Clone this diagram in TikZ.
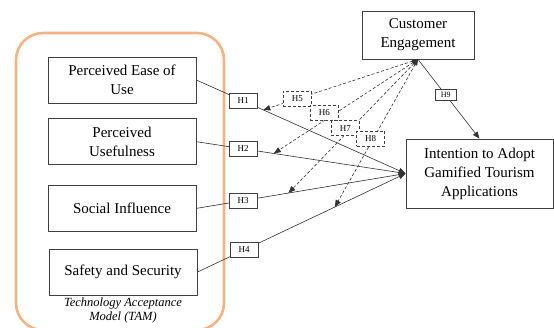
\documentclass[tikz,border=0pt]{standalone}
\usepackage{fontspec}
\setmainfont{Liberation Serif}
\usetikzlibrary{arrows.meta, positioning}

\definecolor{tamorange}{RGB}{245,178,130}

\tikzset{
  construct/.style={draw=black!75, line width=0.7pt, align=center, inner sep=2pt,
    minimum width=148pt, minimum height=46pt, font=\fontsize{15}{19}\selectfont},
  hypbox/.style={draw=black!75, line width=0.6pt, fill=white, inner sep=1pt,
    minimum width=28pt, minimum height=15pt, font=\fontsize{9}{10}\selectfont},
  hypdash/.style={hypbox, dash pattern=on 3pt off 2pt},
  link/.style={draw=black!80, line width=0.6pt, -{Triangle[length=7pt,width=5.5pt]}},
  moderate/.style={link, dash pattern=on 3pt off 2pt, {Triangle[length=6pt,width=4.5pt]}-{Triangle[length=7pt,width=5.5pt]}}
}

\begin{document}
\begin{tikzpicture}[x=1pt, y=-1pt]
\useasboundingbox (0,0) rectangle (554,327);

% TAM frame
\draw[tamorange, line width=2.6pt, rounded corners=27pt] (16,33) rectangle (224,330);

\node[construct] (peu) at (122,80) {Perceived Ease of\\Use};
\node[construct, below=15pt of peu] (pu) {Perceived\\Usefulness};
\node[construct, below=20pt of pu] (si) {Social Influence};
\node[construct, below=17pt of si, xshift=1pt] (ss) {Safety and Security};
\node[align=center, inner sep=0pt, font=\fontsize{12.5}{14.5}\selectfont\itshape] (tam) at (123,310.5) {Technology Acceptance\\Model (TAM)};

\node[construct, minimum width=112pt, minimum height=48pt] (ce) at (418,35) {Customer\\Engagement};
\node[construct, minimum width=147pt, minimum height=69pt] (goal) at (479.5,173.5) {Intention to Adopt\\Gamified Tourism\\Applications};

% direct paths
\draw[link] (peu.east) -- node[hypbox, pos=.224] (h1) {H1} coordinate[pos=.32] (m5) (goal.west);
\draw[link] (pu.east) -- node[hypbox, pos=.224] (h2) {H2} coordinate[pos=.37] (m6) (goal.west);
\draw[link] (si.east) -- node[hypbox, pos=.224] (h3) {H3} coordinate[pos=.44] (m7) (goal.west);
\draw[link] (ss.east) -- node[hypbox, pos=.224] (h4) {H4} coordinate[pos=.66] (m8) (goal.west);

% engagement paths
\draw[link] (ce.south) -- node[hypbox, pos=.45, minimum width=21pt, minimum height=11pt, font=\fontsize{8}{9}\selectfont] (h9) {H9} (goal.north);
\draw[moderate] (ce.south) -- node[hypdash, pos=.78] (h5) {H5} (m5);
\draw[moderate] (ce.south) -- node[hypdash, pos=.65, yshift=8pt] (h6) {H6} (m6);
\draw[moderate] (ce.south) -- node[hypdash, pos=.56, yshift=6pt] (h7) {H7} (m7);
\draw[moderate] (ce.south) -- node[hypdash, pos=.57, yshift=5pt] (h8) {H8} (m8);

\end{tikzpicture}
\end{document}
